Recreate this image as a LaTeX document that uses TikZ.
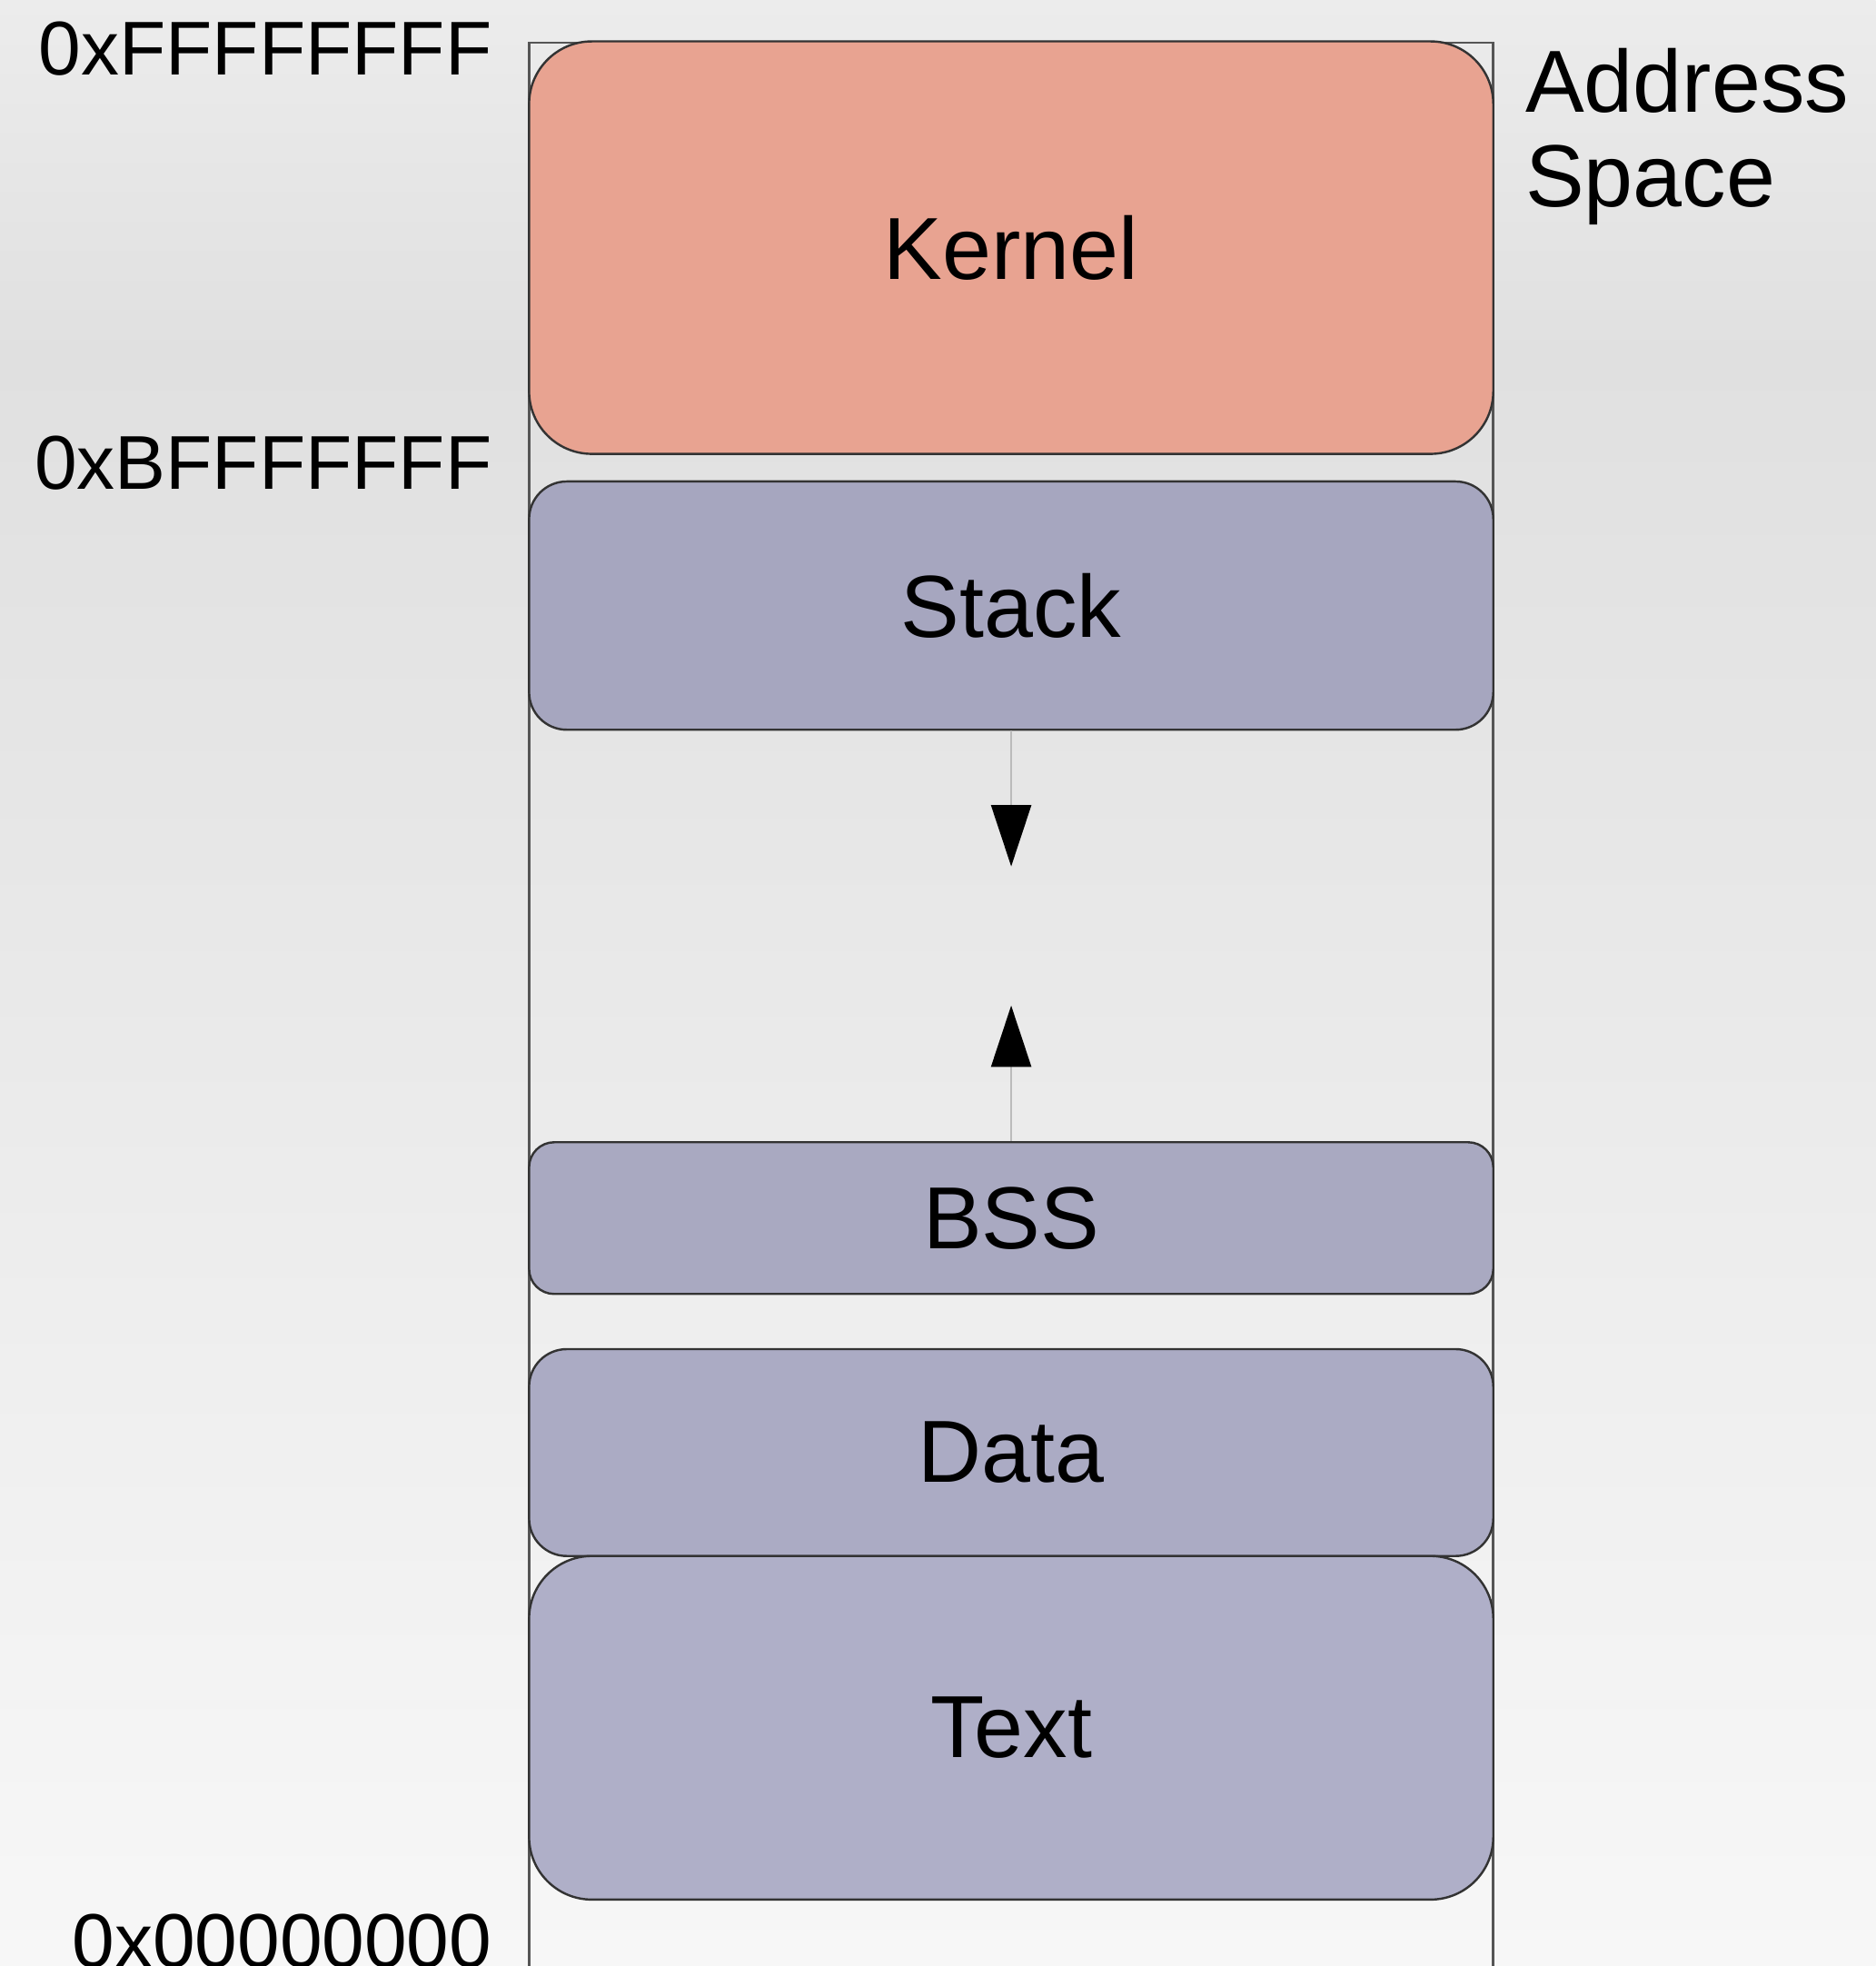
\documentclass[tikz,border=0pt]{standalone}
\usepackage{fontspec}
\setmainfont{Liberation Sans}
\usetikzlibrary{arrows.meta}
\definecolor{bgtop}{HTML}{ECECEC}
\definecolor{bgdark}{HTML}{E0E0E0}
\definecolor{bgmid}{HTML}{E6E6E6}
\definecolor{bglow}{HTML}{EFEFEF}
\definecolor{bgbot}{HTML}{F7F7F7}
\definecolor{kernelc}{HTML}{E8A391}
\definecolor{stackc}{HTML}{A6A6BF}
\definecolor{bssc}{HTML}{A9A9C1}
\definecolor{datac}{HTML}{ABABC4}
\definecolor{textc}{HTML}{AFAFC8}
\definecolor{framec}{HTML}{555555}
\definecolor{edgec}{HTML}{333333}
\definecolor{arrowc}{HTML}{BBBBBB}
\pgfdeclareverticalshading{bgshade}{100bp}{color(0bp)=(bgbot); color(25bp)=(bgbot); color(40bp)=(bglow); color(55bp)=(bgmid); color(66bp)=(bgdark); color(75bp)=(bgtop); color(100bp)=(bgtop)}
\tikzset{
  segment/.style={draw=edgec, line width=0.5pt, inner sep=0pt, minimum width=7.69cm,
    font=\fontsize{20}{24}\selectfont, text=black},
  addr/.style={font=\fontsize{17.3}{20}\selectfont, anchor=base east, inner sep=0pt, text=black},
  growth/.style={draw=arrowc, line width=0.45pt, -{Triangle[width=0.32cm, length=0.49cm, color=black]}}
}
\begin{document}
\begin{tikzpicture}
\useasboundingbox (0,0) rectangle (14.96,-15.68);
\clip (0,0) rectangle (14.96,-15.68);
\shade[shading=bgshade] (0,0) rectangle (14.96,-15.68);
\node[draw=framec, line width=0.6pt, inner sep=0pt, minimum width=7.69cm, minimum height=15.6cm, anchor=north] (frame) at (8.065,-0.33) {};
\node[segment, fill=kernelc, rounded corners=0.5cm, minimum height=3.29cm] (kernel) at (8.065,-1.975) {Kernel};
\node[segment, fill=stackc, rounded corners=0.3cm, minimum height=1.98cm] (stack) at (8.065,-4.83) {Stack};
\node[segment, fill=bssc, rounded corners=0.2cm, minimum height=1.21cm] (bss) at (8.065,-9.715) {BSS};
\node[segment, fill=datac, rounded corners=0.3cm, minimum height=1.65cm] (data) at (8.065,-11.585) {Data};
\node[segment, fill=textc, rounded corners=0.5cm, minimum height=2.74cm] (text) at (8.065,-13.78) {Text};
\coordinate (downtip) at (8.065,-6.91);
\coordinate (uptip) at (8.065,-8.02);
\draw[growth] (stack.south) -- (downtip);
\draw[growth] (bss.north) -- (uptip);
\node[addr] (ffff) at (3.93,-0.60) {0xFFFFFFFF};
\node[addr] (bfff) at (3.93,-3.90) {0xBFFFFFFF};
\node[addr] (zero) at (3.93,-15.69) {0x00000000};
\node[font=\fontsize{20}{21.5}\selectfont, align=left, anchor=base west, inner sep=0pt] (title) at (12.16,-1.65) {Address\\Space};
\end{tikzpicture}
\end{document}
